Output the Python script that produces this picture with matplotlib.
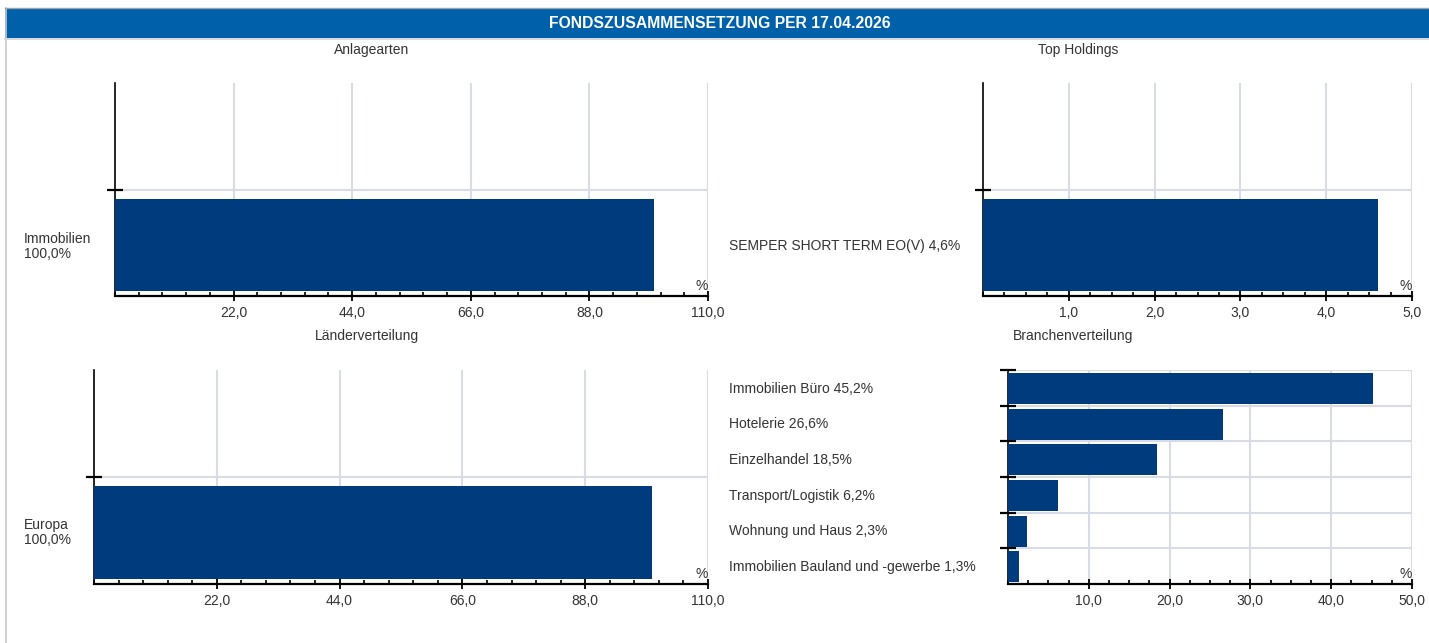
import matplotlib.pyplot as plt
from matplotlib.patches import Rectangle
from matplotlib.lines import Line2D
from matplotlib.ticker import MultipleLocator, FixedLocator, FuncFormatter
from matplotlib.transforms import blended_transform_factory, offset_copy

plt.rcParams['font.family'] = ['Liberation Sans', 'DejaVu Sans']

# Fondsdaten
stichtag = '17.04.2026'

anlage_labels = ['Immobilien']
anlage_values = [100.0]

top_labels = ['SEMPER SHORT TERM EO(V)']
top_values = [4.6]

laender_labels = ['Europa']
laender_values = [100.0]

branchen_labels = ['Immobilien Büro', 'Hotelerie', 'Einzelhandel',
                   'Transport/Logistik', 'Wohnung und Haus',
                   'Immobilien Bauland und -gewerbe']
branchen_values = [45.2, 26.6, 18.5, 6.2, 2.3, 1.3]

BAR = '#003b7e'
HEAD = '#0060a9'
GRID = '#d9dbe6'
TXT = '#333333'
FS = 10
W, H = 1429, 643


def de(v):
    return f'{v:.1f}'.replace('.', ',')


fig = plt.figure(figsize=(W / 100, H / 100), dpi=100)


def px_box(left, right, top, bottom):
    return [left / W, 1 - bottom / H, (right - left) / W, (bottom - top) / H]


# Rahmen und Kopfzeile
fig.add_artist(Line2D([5.5 / W, 5.5 / W], [0, 1 - 8 / H], color='#c8c8c8', lw=1.2))
fig.add_artist(Line2D([5 / W, 1], [1 - 8 / H, 1 - 8 / H], color='#9aa4ae', lw=1.0))
fig.add_artist(Rectangle((5 / W, 1 - 37.5 / H), 1 - 5 / W, 29 / H,
                         facecolor=HEAD, edgecolor='none', transform=fig.transFigure))
fig.add_artist(Line2D([5 / W, 1], [1 - 38.5 / H, 1 - 38.5 / H], color='#d0d4da', lw=1.2))
fig.text(720 / W, 1 - 23 / H, f'FONDSZUSAMMENSETZUNG PER {stichtag}', color='white',
         fontsize=11.3, fontweight='bold', ha='center', va='center')


def panel(box, title, title_xy, labels, values, xmax, major, minor, label_x, two_line, dy_px):
    ax = fig.add_axes(box)
    n = len(labels)
    nrows = max(n, 2)
    ypos = [nrows - 1 - i for i in range(n)] if n > 1 else [0]
    ax.barh([y - 0.02 for y in ypos], values, height=0.87, color=BAR, zorder=3)
    ax.set_xlim(0, xmax)
    ax.set_ylim(-0.5, nrows - 0.5 if n > 1 else 1.5)

    ax.xaxis.set_major_locator(FixedLocator([major * k for k in range(1, int(round(xmax / major)) + 1)]))
    ax.xaxis.set_minor_locator(MultipleLocator(minor))
    ax.xaxis.set_major_formatter(FuncFormatter(lambda v, p: de(v)))
    ax.yaxis.set_major_locator(FixedLocator([y + 0.5 for y in ypos]))
    ax.set_yticklabels([])

    ax.tick_params(axis='x', which='major', direction='inout', length=7, width=1.3,
                   colors='black', labelcolor=TXT, labelsize=FS, pad=4)
    ax.tick_params(axis='x', which='minor', direction='in', length=3, width=1.2, colors='black')
    ax.tick_params(axis='y', which='major', direction='inout', length=11, width=1.6, colors='black')

    ax.grid(True, which='major', color=GRID, lw=1.5, zorder=0)
    ax.set_axisbelow(True)
    for s in ('top', 'right'):
        ax.spines[s].set_visible(False)
    ax.spines['bottom'].set_linewidth(1.6)
    ax.spines['left'].set_linewidth(1.2)

    ax.text(1.0, 0.012, '%', transform=ax.transAxes, ha='right', va='bottom',
            fontsize=FS, color=TXT)
    fig.text(title_xy[0] / W, 1 - title_xy[1] / H, title, ha='center', va='center',
             fontsize=FS, color=TXT)

    tr = blended_transform_factory(fig.transFigure, ax.transData)
    tr = offset_copy(tr, fig=fig, y=-dy_px, units='dots')
    for lab, v, y in zip(labels, values, ypos):
        txt = f'{lab}\n{de(v)}%' if two_line else f'{lab} {de(v)}%'
        ax.text(label_x / W, y, txt, transform=tr, ha='left', va='center',
                fontsize=FS, color=TXT, linespacing=1.1)
    return ax


panel(px_box(115, 708, 83, 296), 'Anlagearten', (372, 50),
      anlage_labels, anlage_values, 110, 22, 4.4, 24, True, 4)
panel(px_box(983, 1412, 83, 296), 'Top Holdings', (1078, 50),
      top_labels, top_values, 5, 1, 0.25, 729, False, 3)
panel(px_box(94, 708, 370, 584), 'Länderverteilung', (367, 336),
      laender_labels, laender_values, 110, 22, 4.4, 24, True, 2)
panel(px_box(1008, 1412, 370, 584), 'Branchenverteilung', (1073, 336),
      branchen_labels, branchen_values, 50, 10, 2.5, 729, False, 1)

fig.savefig('out.png', dpi=100)
